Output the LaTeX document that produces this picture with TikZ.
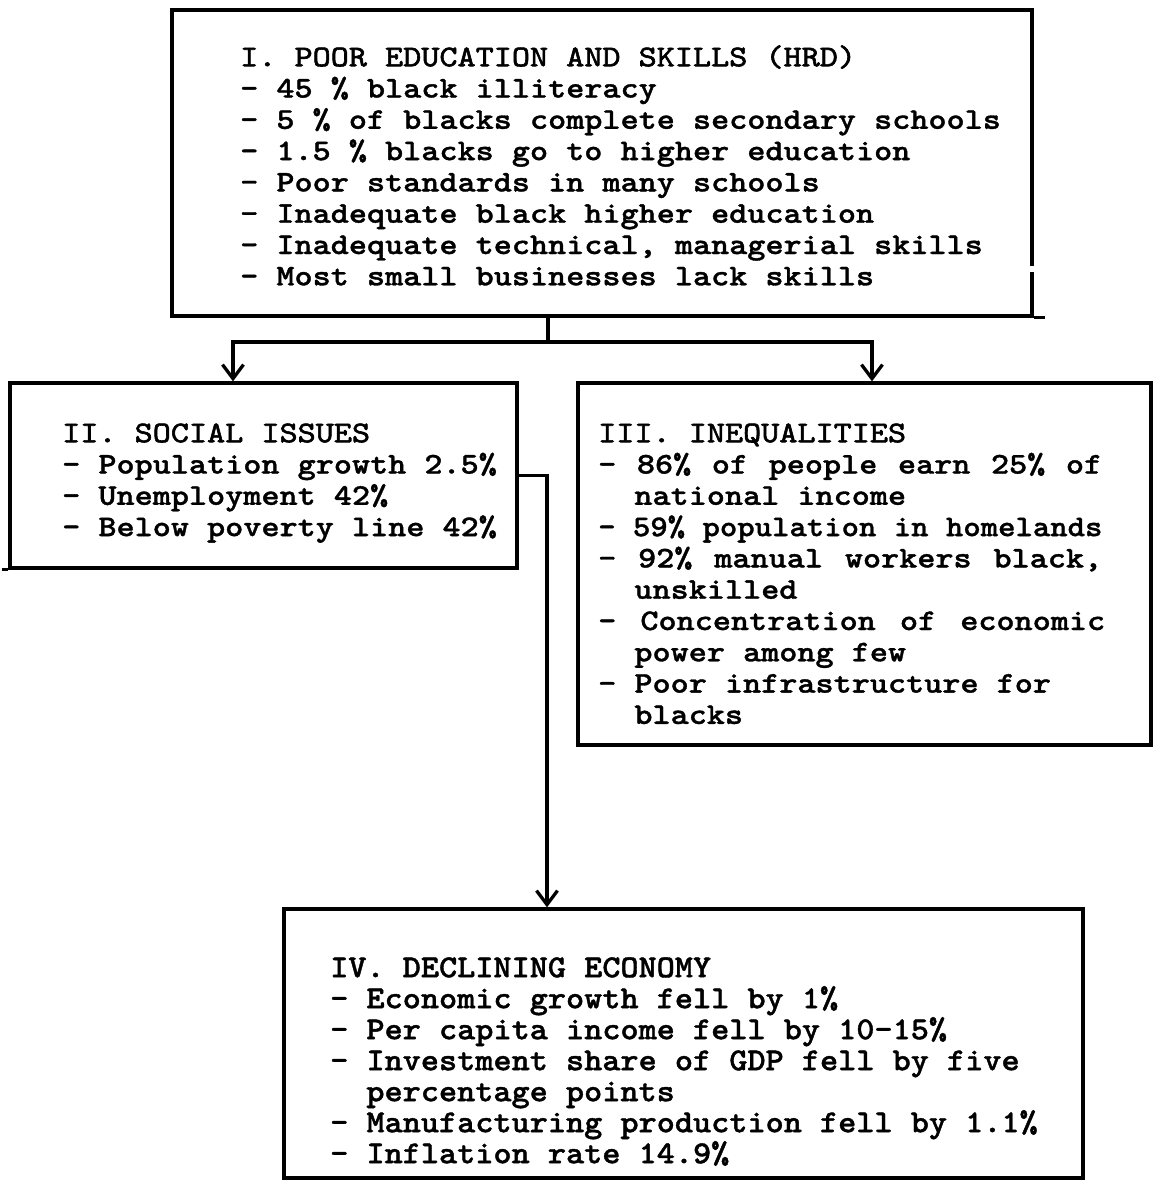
\documentclass[tikz,border=0pt]{standalone}
\usepackage{fontspec}
\usetikzlibrary{arrows.meta}
\newfontfamily\twr{lmmono10-regular.otf}[FakeStretch=1.15,FakeBold=2]
\newfontfamily\twb{lmmonolt10-bold.otf}[FakeStretch=1.15,FakeBold=1.2]
\newfontfamily\twc{lmmonolt10-bold.otf}[FakeStretch=1.08,FakeBold=1.2]
\newcommand\fst{\rule{0pt}{24pt}}
\newcommand\ind{\hspace*{36.2pt}}
\newcommand\jl[1]{\hbox to 504pt{#1}}
\begin{document}
\begin{tikzpicture}[x=1pt,y=-1pt,
  box/.style={draw, line width=3.3pt, inner sep=0pt},
  txt/.style={anchor=north west, inner sep=0pt, align=left},
  ftab/.style={font=\twb\fontsize{30}{31.3}\selectfont},
  ftd/.style={font=\twc\fontsize{32}{31}\selectfont},
  con/.style={line width=3.3pt},
  arr/.style={con, -{Straight Barb[length=14pt,width=21pt]}}]
\useasboundingbox (0,0) rectangle (1156,1181);
% boxes
\node[box, minimum width=860pt, minimum height=306pt] (b1) at (602,163) {};
\node[box, minimum width=507pt, minimum height=185pt] (b2) at (263.5,475.5) {};
\node[box, minimum width=573pt, minimum height=362pt] (b3) at (864.5,564) {};
\node[box, minimum width=799pt, minimum height=269pt] (b4) at (683.5,1043.5) {};
% scan details of the borders
\draw[white, line width=4.5pt] (1032,266) -- (1032,272);
\draw[con] (b1.south east) -- ++(11,0);
\draw[con] (b2.south west) -- ++(-6,0);
% texts
\node[txt, ftab] (t1) at (240,42) {\fst{\twr I. POOR EDUCATION AND SKILLS (HRD)}\\
- 45 \% black illiteracy\\
- 5 \% of blacks complete secondary schools\\
- 1.5 \% blacks go to higher education\\
- Poor standards in many schools\\
- Inadequate black higher education\\
- Inadequate technical, managerial skills\\
- Most small businesses lack skills};
\node[txt, ftab] (t2) at (62,418) {\fst{\twr II. SOCIAL ISSUES}\\
- Population growth 2.5\%\\
- Unemployment 42\%\\
- Below poverty line 42\%};
\node[txt, ftab] (t3) at (598,418) {\fst{\twr III. INEQUALITIES}\\
\jl{-\hfill 86\%\hfill of\hfill people\hfill earn\hfill 25\%\hfill of}\\
\ind national income\\
\scalebox{0.96}[1]{- 59\% population in homelands}\\
\jl{-\hfill 92\%\hfill manual\hfill workers\hfill black,}\\
\ind unskilled\\
\hbox to 507pt{-\hfill Concentration\hfill of\hfill economic}\\
\ind power among few\\
- Poor infrastructure for\\
\ind blacks};
\node[txt, ftd] (t4) at (330,953) {\fst IV. DECLINING ECONOMY\\
- Economic growth fell by 1\%\\
- Per capita income fell by 10-15\%\\
- Investment share of GDP fell by five\\
\ind percentage points\\
- Manufacturing production fell by 1.1\%\\
- Inflation rate 14.9\%};
% connectors
\coordinate (j) at (548,342);
\coordinate (x2) at (233,0);
\coordinate (x3) at (872,0);
\coordinate (x4) at (547,0);
\draw[con] (b1.south -| j) -- (j);
\draw[arr] (j) -| (b2.north -| x2);
\draw[arr] (j) -| (b3.north -| x3);
\draw[arr] (b2.east) -| (b4.north -| x4);
\end{tikzpicture}
\end{document}
